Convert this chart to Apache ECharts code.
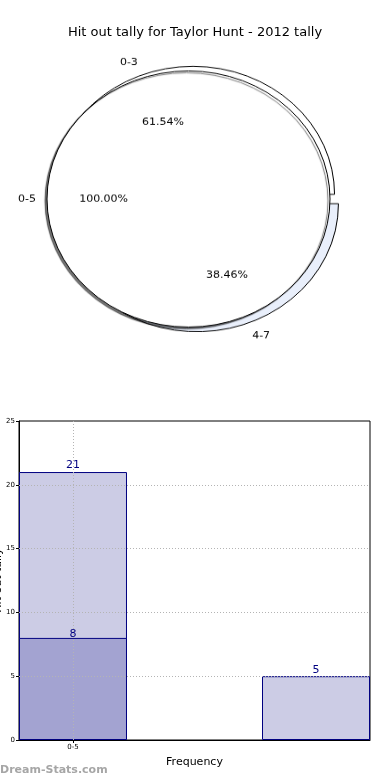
<!DOCTYPE html>
<html>
<head>
<meta charset="utf-8">
<script src="https://cdn.jsdelivr.net/npm/echarts@6/dist/echarts.min.js"></script>
<style>
html,body{margin:0;padding:0;background:#fff;}
#main{position:absolute;left:0;top:0;width:390px;height:780px;}
#pie{position:absolute;left:0;top:29px;width:390px;height:340px;transform:scaleY(0.905);transform-origin:50% 50%;pointer-events:none;}
</style>
</head>
<body>
<div id="main"></div>
<div id="pie"></div>
<script>
// ---- data ----
const chartTitle = 'Hit out tally for Taylor Hunt - 2012 tally';
const outerCats = ['0-3', '4-7'];
const outerVals = [8, 5];
const innerCats = ['0-5'];
const innerVals = [13];
const barTickLabels = ['0-5'];
const barPositions = [0, 1];
const barTotals = [21, 5];
const barSubPositions = [0];
const barSub = [8];
const yTicks = [0, 5, 10, 15, 20, 25];
const xAxisName = 'Frequency';
const yAxisName = 'Hit out tally';
const watermark = 'Dream-Stats.com';

const FONT = 'DejaVu Sans';

// ---- main chart (title + bar) ----
const main = echarts.init(document.getElementById('main'), null, {renderer: 'canvas'});
const navy = '#000080';
const tickVals = barPositions.slice(0, barTickLabels.length);
main.setOption({
  animation: false,
  textStyle: {fontFamily: FONT},
  title: {
    text: chartTitle, left: 'center', top: 21,
    textStyle: {fontFamily: FONT, fontSize: 13, fontWeight: 'normal', color: '#000'}
  },
  graphic: [{
    type: 'text', left: 0, top: 765,
    style: {text: watermark, fontFamily: FONT, fontSize: 11, fontWeight: 'bold', fill: '#a6a6a6'}
  }],
  grid: {left: 19, right: 20, top: 421, bottom: 40, outerBoundsMode: 'none', containLabel: false,
    show: true, borderColor: '#000', borderWidth: 1, backgroundColor: 'transparent'},
  xAxis: {
    type: 'value', min: -0.2222, max: 1.2222,
    name: xAxisName, nameLocation: 'middle', nameGap: 17, nameMoveOverlap: false,
    nameTextStyle: {fontFamily: FONT, fontSize: 11, color: '#000'},
    axisLine: {show: true, onZero: false, lineStyle: {color: '#000'}},
    axisTick: {show: true, length: 3, lineStyle: {color: '#000'}, customValues: tickVals},
    axisLabel: {fontFamily: FONT, fontSize: 7, color: '#000', margin: 4,
      customValues: tickVals,
      formatter: function (v) { const i = barPositions.indexOf(v); return (i >= 0 && i < barTickLabels.length) ? barTickLabels[i] : ''; }},
    splitLine: {show: false}
  },
  yAxis: {
    type: 'value', min: yTicks[0], max: yTicks[yTicks.length - 1], interval: 5,
    name: yAxisName, nameLocation: 'middle', nameGap: 15, nameRotate: 90, nameMoveOverlap: false,
    nameTextStyle: {fontFamily: FONT, fontSize: 11, color: '#000'},
    axisLine: {show: true, onZero: false, lineStyle: {color: '#000'}},
    axisTick: {show: true, length: 3, lineStyle: {color: '#000'}},
    axisLabel: {fontFamily: FONT, fontSize: 7, color: '#000', margin: 4},
    splitLine: {show: false}
  },
  series: [
    {
      type: 'bar', barWidth: 108, barGap: '-100%',
      data: barPositions.map((p, i) => [p, barTotals[i]]),
      itemStyle: {color: '#ccccE5', borderColor: navy, borderWidth: 1},
      label: {show: true, position: 'top', distance: 1, color: navy, fontFamily: FONT, fontSize: 11,
        formatter: p => String(p.value[1])},
      silent: true
    },
    {
      type: 'bar', barWidth: 108, barGap: '-100%',
      data: barSubPositions.map((p, i) => [p, barSub[i]]),
      itemStyle: {color: '#a3a3d1', borderColor: navy, borderWidth: 1},
      label: {show: true, position: 'top', distance: -2, color: navy, fontFamily: FONT, fontSize: 11,
        formatter: p => String(p.value[1])},
      silent: true,
      markLine: {
        silent: true, symbol: 'none', animation: false,
        label: {show: false},
        emphasis: {disabled: true},
        lineStyle: {type: [1, 2], color: '#b4b4b4', width: 1},
        data: yTicks.slice(1, -1).map(v => ({yAxis: v})).concat(tickVals.map(v => ({xAxis: v})))
      }
    }
  ]
});

// ---- pie ----
const pie = echarts.init(document.getElementById('pie'), null, {renderer: 'canvas'});
const pieColors = ['#ffffff', '#e9effb'];
const CO = [195, 170];     // outer pie centre
const CI = [188.5, 170];   // inner pie centre
const R = 141.5;
const EXPL = 5.5;
const base = {
  type: 'pie', clockwise: false, startAngle: 0, silent: true,
  animation: false, emphasis: {disabled: true},
  avoidLabelOverlap: false, minAngle: 0
};
const pctFmt = p => p.percent.toFixed(2) + '%';
const lbl = {fontFamily: FONT, fontSize: 11, color: '#000'};
const outsideName = Object.assign({show: true, position: 'outside', formatter: '{b}', distanceToLabelLine: 0, verticalAlign: 'middle'}, lbl);
const clear = {color: 'rgba(0,0,0,0)', borderWidth: 0};
const outerData = () => outerCats.map((n, i) => ({name: n, value: outerVals[i], selected: true}));
const innerData = () => innerCats.map((n, i) => ({name: n, value: innerVals[i]}));
pie.setOption({
  animation: false,
  series: [
    Object.assign({}, base, {
      center: CO, radius: [0, R], selectedMode: 'multiple', selectedOffset: EXPL,
      data: outerData(),
      itemStyle: {color: p => pieColors[p.dataIndex], borderColor: '#000', borderWidth: 1},
      label: outsideName, labelLine: {show: false, length: 0.1 * R, length2: 0}
    }),
    Object.assign({}, base, {
      center: CI, radius: [0, R],
      data: innerData(),
      itemStyle: {color: '#fff', borderColor: '#000', borderWidth: 1,
        shadowBlur: 1, shadowOffsetX: -2, shadowOffsetY: 2, shadowColor: 'rgba(0,0,0,0.55)'},
      label: outsideName, labelLine: {show: false, length: 11, length2: 0}
    }),
    Object.assign({}, base, {
      center: CO, radius: [0, 2 * (0.6 * R - 3)], selectedMode: 'multiple', selectedOffset: EXPL,
      data: outerData(), itemStyle: clear, labelLine: {show: false},
      label: Object.assign({show: true, position: 'inside', formatter: pctFmt}, lbl)
    }),
    Object.assign({}, base, {
      center: CI, radius: [0, 2 * (0.6 * R - 3)],
      data: innerData(), itemStyle: clear, labelLine: {show: false},
      label: Object.assign({show: true, position: 'inside', formatter: pctFmt}, lbl)
    })
  ]
});
</script>
</body>
</html>
